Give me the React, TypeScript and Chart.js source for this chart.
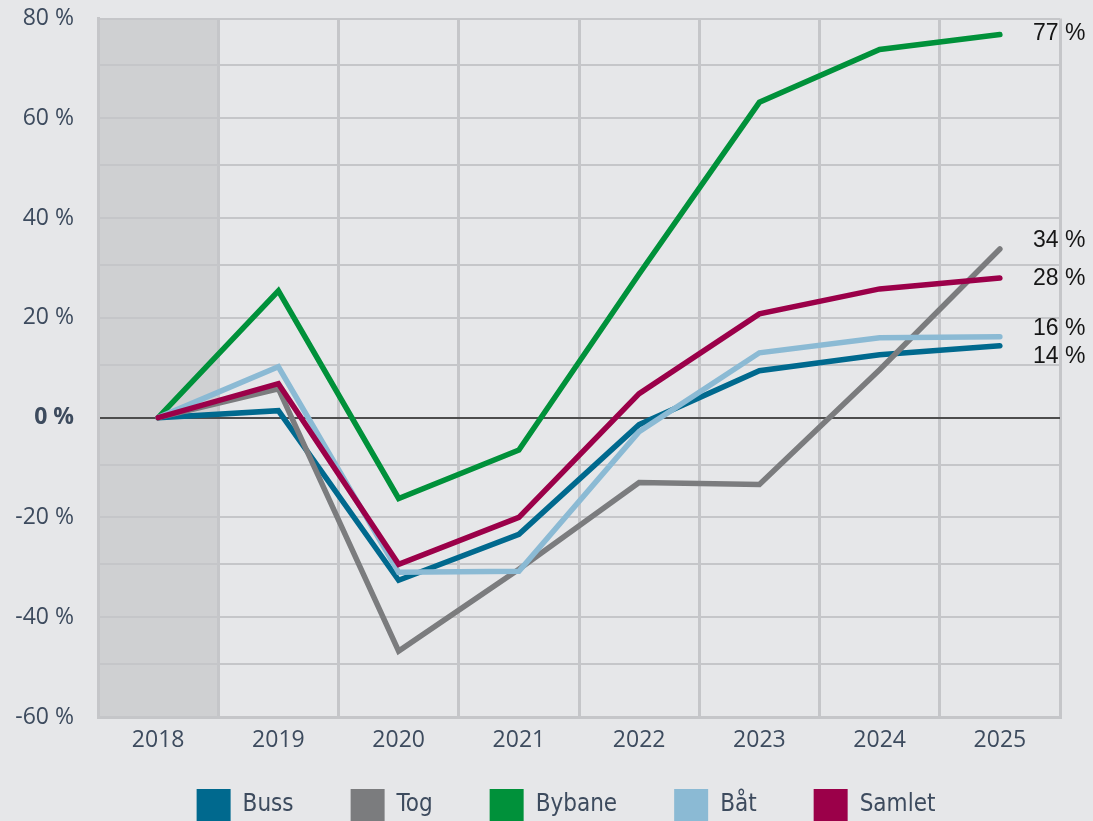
import React, { useEffect, useRef } from 'react';
import { Chart, registerables } from 'chart.js';

Chart.register(...registerables);

// ---- data ----
const years = ['2018', '2019', '2020', '2021', '2022', '2023', '2024', '2025'];
const seriesNames = ['Buss', 'Tog', 'Bybane', 'Båt', 'Samlet'];
const buss = [0, 1.4, -32.6, -23.4, -1.4, 9.4, 12.6, 14.4];
const tog = [0, 5.8, -46.8, -30.4, -13.0, -13.4, 9.6, 33.8];
const bybane = [0, 25.4, -16.2, -6.5, 28.8, 63.2, 73.8, 76.8];
const baat = [0, 10.2, -31.0, -30.8, -2.8, 13.0, 16.0, 16.2];
const samlet = [0, 6.8, -29.4, -20.0, 4.8, 20.8, 25.8, 28.0];
const yMin = -60;
const yMax = 80;
const yStep = 20;
const minorGridValues = [70.6, 50.6, 30.6, 10.6, -9.4, -29.4, -49.4];
const endLabels = ['77 %', '34 %', '28 %', '16 %', '14 %'];
const endLabelValues = [76.9, 35.4, 27.8, 17.8, 12.2];
const shadedYears = ['2018'];

// ---- styles ----
const colors = ['#00698e', '#7b7c7e', '#00913a', '#8bbad4', '#9b0049'];
const drawOrder = [5, 4, 3, 2, 1];
const BG = '#e6e7e9';
const GRID = '#c5c6c9';
const BAND = '#cfd0d2';
const AXIS_TEXT = '#3d4b5e';
const TICK_FONT = '"Open Sans", "Liberation Sans", sans-serif';
const LEGEND_SHIFT_X = 36;
const LEGEND_SHIFT_Y = -23;

const backgroundPlugin = {
  id: 'bgBand',
  afterLayout(chart: any) {
    const lg = chart.legend;
    if (lg) {
      lg.left += LEGEND_SHIFT_X;
      lg.right += LEGEND_SHIFT_X;
      lg.top += LEGEND_SHIFT_Y;
    }
  },
  beforeDraw(chart: any) {
    const { ctx, chartArea, scales } = chart;
    ctx.save();
    ctx.fillStyle = BG;
    ctx.fillRect(0, 0, chart.width, chart.height);
    const x = scales.x;
    const half = (x.getPixelForValue(1) - x.getPixelForValue(0)) / 2;
    ctx.fillStyle = BAND;
    shadedYears.forEach((yr) => {
      const idx = years.indexOf(yr);
      const cx = x.getPixelForValue(idx);
      ctx.fillRect(cx - half, chartArea.top, half * 2, chartArea.bottom - chartArea.top);
    });
    ctx.restore();
  },
  beforeDatasetsDraw(chart: any) {
    const { ctx, chartArea, scales } = chart;
    ctx.save();
    ctx.strokeStyle = GRID;
    ctx.lineWidth = 2;
    minorGridValues.forEach((v) => {
      const y = Math.round(scales.y.getPixelForValue(v));
      ctx.beginPath();
      ctx.moveTo(chartArea.left, y);
      ctx.lineTo(chartArea.right, y);
      ctx.stroke();
    });
    ctx.restore();
  },
};

const endLabelPlugin = {
  id: 'endLabels',
  afterDatasetsDraw(chart: any) {
    const { ctx, chartArea, scales } = chart;
    ctx.save();
    ctx.fillStyle = '#161616';
    ctx.font = '23px "Liberation Sans", Arial, sans-serif';
    ctx.textAlign = 'left';
    ctx.textBaseline = 'middle';
    endLabels.forEach((t, i) => {
      ctx.fillText(t, chartArea.right - 27, scales.y.getPixelForValue(endLabelValues[i]));
    });
    ctx.restore();
  },
};

export default function App() {
  const ref = useRef<HTMLCanvasElement>(null);
  useEffect(() => {
    document.body.style.margin = '0';
    const seriesData = [buss, tog, bybane, baat, samlet];
    const chart = new Chart(ref.current as HTMLCanvasElement, {
      type: 'line',
      data: {
        labels: years,
        datasets: seriesNames.map((name, i) => ({
          label: name,
          data: seriesData[i],
          borderColor: colors[i],
          backgroundColor: colors[i],
          borderWidth: 5.5,
          pointRadius: 0,
          tension: 0,
          borderCapStyle: 'round',
          fill: false,
          order: drawOrder[i],
        })),
      },
      options: {
        responsive: false,
        animation: false,
        layout: { autoPadding: false, padding: { top: 18.5, right: 33, left: 0, bottom: 0 } },
        plugins: {
          tooltip: { enabled: false },
          legend: {
            position: 'bottom',
            maxHeight: 66,
            labels: {
              boxWidth: 34,
              boxHeight: 32,
              padding: 57,
              color: AXIS_TEXT,
              font: { family: '"DejaVu Sans Condensed", "Liberation Sans Narrow", Roboto, sans-serif', size: 24 },
              sort: (a: any, b: any) => a.datasetIndex - b.datasetIndex,
              generateLabels: (c: any) =>
                Chart.defaults.plugins.legend.labels
                  .generateLabels(c)
                  .map((l: any) => ({ ...l, lineWidth: 0 })),
            },
          },
        },
        scales: {
          x: {
            offset: true,
            grid: { offset: true, color: GRID, lineWidth: 3, drawTicks: false },
            border: { color: GRID, width: 3 },
            ticks: { color: AXIS_TEXT, padding: 10, font: { family: TICK_FONT, size: 23 } },
            afterFit: (s: any) => { s.height = 38; },
          },
          y: {
            min: yMin,
            max: yMax,
            grid: {
              color: (c: any) => (c.tick && c.tick.value === 0 ? '#4d4d4d' : GRID),
              lineWidth: 2,
              drawTicks: true,
              tickLength: 24,
              tickColor: 'rgba(0,0,0,0)',
            },
            border: { color: GRID, width: 3 },
            ticks: {
              stepSize: yStep,
              padding: 0,
              color: AXIS_TEXT,
              font: (c: any) => ({
                family: TICK_FONT,
                size: 23,
                weight: c.tick && c.tick.value === 0 ? 'bold' : 'normal',
              }),
              callback: (v: any) => `${v} %`,
            },
            afterFit: (s: any) => { s.width = 98; },
          },
        },
      },
      plugins: [backgroundPlugin, endLabelPlugin],
    } as any);
    return () => chart.destroy();
  }, []);
  return (
    <div style={{ position: 'absolute', left: 0, top: 0, width: 1093, height: 821, background: BG }}>
      <canvas ref={ref} width={1093} height={821} />
    </div>
  );
}
